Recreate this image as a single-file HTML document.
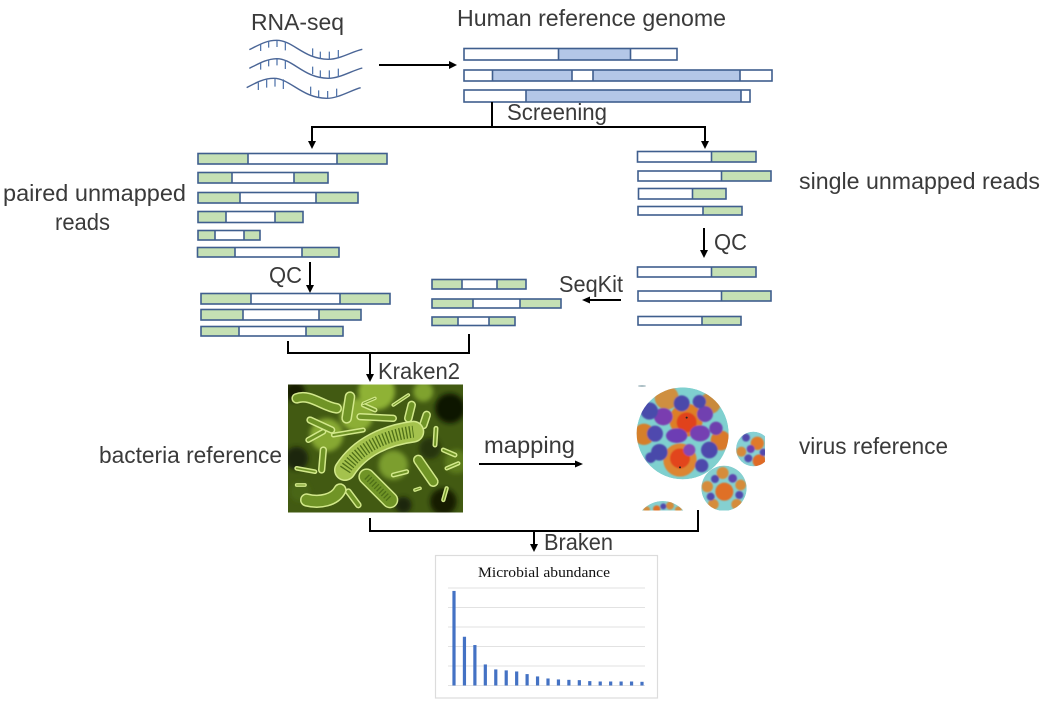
<!DOCTYPE html>
<html lang="en">
<head>
<meta charset="utf-8">
<title>Microbial abundance pipeline</title>
<style>
html,body{margin:0;padding:0;background:#fff;width:1056px;height:720px;overflow:hidden}
svg{display:block}
text{font-family:"Liberation Sans","Noto Sans CJK SC",sans-serif;fill:#3a3a3a;font-size:23.5px}
.read rect{stroke:none}
.read .o{fill:none;stroke:#3f5e8e;stroke-width:1.6}
.read .d{fill:none;stroke:#3f5e8e;stroke-width:1.6}
.g{fill:#c5e0b4}
.b{fill:#b4c7e7}
.w{fill:none;stroke:#4a6596;stroke-width:1.4}
.t{stroke:#4a6fa8;stroke-width:1.2}
.c{stroke:#000;stroke-width:2;fill:none}
</style>
</head>
<body>
<svg id="root" xmlns="http://www.w3.org/2000/svg" width="1056" height="720" viewBox="0 0 1056 720">
<defs>
<clipPath id="bc"><rect x="288" y="384.500" width="175" height="128"/></clipPath>
<clipPath id="vc"><rect x="620" y="375" width="145" height="135.500"/></clipPath>
<clipPath id="v1"><circle cx="188" cy="175" r="138"/></clipPath>
<clipPath id="v2"><circle cx="400" cy="222" r="52"/></clipPath>
<clipPath id="v3"><circle cx="312" cy="340" r="68"/></clipPath>
<clipPath id="v4"><circle cx="128" cy="460" r="82"/></clipPath>
<filter id="bl8"><feGaussianBlur stdDeviation="7"/></filter>
<filter id="bl2"><feGaussianBlur stdDeviation="2.4"/></filter>
<filter id="bl1"><feGaussianBlur stdDeviation="0.7"/></filter>
</defs>

<!-- labels -->
<text x="251" y="30" textLength="93" lengthAdjust="spacingAndGlyphs">RNA-seq</text>
<text x="457" y="26" textLength="269" lengthAdjust="spacingAndGlyphs">Human reference genome</text>
<text x="507" y="120" textLength="100" lengthAdjust="spacingAndGlyphs">Screening</text>
<text x="3" y="201" textLength="183" lengthAdjust="spacingAndGlyphs">paired unmapped</text>
<text x="55" y="230" textLength="55" lengthAdjust="spacingAndGlyphs">reads</text>
<text x="799" y="189" textLength="241" lengthAdjust="spacingAndGlyphs">single unmapped reads</text>
<text x="269" y="283" textLength="33" lengthAdjust="spacingAndGlyphs">QC</text>
<text x="714" y="250" textLength="33" lengthAdjust="spacingAndGlyphs">QC</text>
<text x="559" y="292" textLength="64" lengthAdjust="spacingAndGlyphs">SeqKit</text>
<text x="378" y="379" textLength="82" lengthAdjust="spacingAndGlyphs">Kraken2</text>
<text x="99" y="463" textLength="183" lengthAdjust="spacingAndGlyphs">bacteria reference</text>
<text x="799" y="454" textLength="149" lengthAdjust="spacingAndGlyphs">virus reference</text>
<text x="484" y="453" textLength="91" lengthAdjust="spacingAndGlyphs">mapping</text>
<text x="544" y="550" textLength="69" lengthAdjust="spacingAndGlyphs">Braken</text>

<!-- RNA strands -->
<g transform="translate(240 35) scale(.3333)">
<g>
<path class="w" style="stroke-width:4.200" d="M28 44C60 28 80 16 110 16C160 16 190 72 265 73C300 73 335 50 367 43"/>
<path class="t" style="stroke-width:3.600" d="M62 28V48M86 18V38M111 16V36M136 20V46M218 40V62M241 50V72M268 50V73M295 45V70"/>
</g>
<g>
<path class="w" style="stroke-width:4.200" d="M28 100C60 84 80 72 110 71C160 71 190 129 265 130C300 130 335 107 367 99"/>
<path class="t" style="stroke-width:3.600" d="M62 84V104M86 74V94M111 71V91M136 76V102M218 95V117M241 106V128M268 106V130M295 101V126"/>
</g>
<g>
<path class="w" style="stroke-width:4.200" d="M20 158C50 142 72 130 102 130C150 130 185 189 260 190C295 190 330 167 362 158"/>
<path class="t" style="stroke-width:3.600" d="M55 143V165M80 134V158M105 130V155M130 133V162M212 155V178M236 166V188M263 168V190M290 161V186"/>
</g>
</g>

<!-- genome reads -->
<g class="read">
<g><rect class="b" x="558.500" y="48.500" width="72" height="11.500"/><rect class="o" x="464" y="48.500" width="213" height="11.500"/><path class="d" d="M558.500 48.500V60M630.500 48.500V60"/></g>
<g><rect class="b" x="492.500" y="70" width="79.500" height="11"/><rect class="b" x="593" y="70" width="147" height="11"/><rect class="o" x="464" y="70" width="308" height="11"/><path class="d" d="M492.500 70V81M572 70V81M593 70V81M740 70V81"/></g>
<g><rect class="b" x="526" y="90" width="215" height="12"/><rect class="o" x="464" y="90" width="286" height="12"/><path class="d" d="M526 90V102M741 90V102"/></g>
</g>

<!-- paired reads -->
<g class="read">
<g><rect class="g" x="198" y="153.500" width="50" height="10.500"/><rect class="g" x="337" y="153.500" width="50" height="10.500"/><rect class="o" x="198" y="153.500" width="189" height="10.500"/><path class="d" d="M248 153.500V164M337 153.500V164"/></g>
<g><rect class="g" x="198" y="172.500" width="34" height="10.500"/><rect class="g" x="294" y="172.500" width="34" height="10.500"/><rect class="o" x="198" y="172.500" width="130" height="10.500"/><path class="d" d="M232 172.500V183M294 172.500V183"/></g>
<g><rect class="g" x="198" y="192.500" width="42" height="10.500"/><rect class="g" x="316" y="192.500" width="42" height="10.500"/><rect class="o" x="198" y="192.500" width="160" height="10.500"/><path class="d" d="M240 192.500V203M316 192.500V203"/></g>
<g><rect class="g" x="198" y="211.500" width="28" height="11"/><rect class="g" x="275" y="211.500" width="28" height="11"/><rect class="o" x="198" y="211.500" width="105" height="11"/><path class="d" d="M226 211.500V222.500M275 211.500V222.500"/></g>
<g><rect class="g" x="198" y="230.500" width="17" height="9.500"/><rect class="g" x="244" y="230.500" width="16" height="9.500"/><rect class="o" x="198" y="230.500" width="62" height="9.500"/><path class="d" d="M215 230.500V240M244 230.500V240"/></g>
<g><rect class="g" x="197.500" y="247.500" width="37.500" height="9.500"/><rect class="g" x="302" y="247.500" width="37" height="9.500"/><rect class="o" x="197.500" y="247.500" width="141.500" height="9.500"/><path class="d" d="M235 247.500V257M302 247.500V257"/></g>
</g>

<g class="read">
<g><rect class="g" x="201" y="293.500" width="50" height="10.500"/><rect class="g" x="340" y="293.500" width="50" height="10.500"/><rect class="o" x="201" y="293.500" width="189" height="10.500"/><path class="d" d="M251 293.500V304M340 293.500V304"/></g>
<g><rect class="g" x="201" y="309.500" width="42" height="10.500"/><rect class="g" x="319" y="309.500" width="42" height="10.500"/><rect class="o" x="201" y="309.500" width="160" height="10.500"/><path class="d" d="M243 309.500V320M319 309.500V320"/></g>
<g><rect class="g" x="201" y="326.500" width="38" height="9.500"/><rect class="g" x="306" y="326.500" width="37" height="9.500"/><rect class="o" x="201" y="326.500" width="142" height="9.500"/><path class="d" d="M239 326.500V336M306 326.500V336"/></g>
</g>

<g class="read">
<g><rect class="g" x="432" y="279.500" width="30" height="9.500"/><rect class="g" x="497" y="279.500" width="29" height="9.500"/><rect class="o" x="432" y="279.500" width="94" height="9.500"/><path class="d" d="M462 279.500V289M497 279.500V289"/></g>
<g><rect class="g" x="432" y="299" width="41" height="9"/><rect class="g" x="520" y="299" width="41" height="9"/><rect class="o" x="432" y="299" width="129" height="9"/><path class="d" d="M473 299V308M520 299V308"/></g>
<g><rect class="g" x="432" y="317" width="26" height="8.500"/><rect class="g" x="489" y="317" width="26" height="8.500"/><rect class="o" x="432" y="317" width="83" height="8.500"/><path class="d" d="M458 317V325.500M489 317V325.500"/></g>
</g>

<g class="read">
<g><rect class="g" x="711.500" y="151.500" width="44.500" height="10.500"/><rect class="o" x="637.500" y="151.500" width="118.500" height="10.500"/><path class="d" d="M711.500 151.500V162"/></g>
<g><rect class="g" x="721.500" y="171" width="49.500" height="10"/><rect class="o" x="638" y="171" width="133" height="10"/><path class="d" d="M721.500 171V181"/></g>
<g><rect class="g" x="692.500" y="188.500" width="33.500" height="10.500"/><rect class="o" x="638.500" y="188.500" width="87.500" height="10.500"/><path class="d" d="M692.500 188.500V199"/></g>
<g><rect class="g" x="703" y="206.500" width="39" height="8.500"/><rect class="o" x="638" y="206.500" width="104" height="8.500"/><path class="d" d="M703 206.500V215"/></g>
</g>

<g class="read">
<g><rect class="g" x="711.500" y="267" width="44.500" height="10"/><rect class="o" x="637.500" y="267" width="118.500" height="10"/><path class="d" d="M711.500 267V277"/></g>
<g><rect class="g" x="721.500" y="291" width="49.500" height="10"/><rect class="o" x="638" y="291" width="133" height="10"/><path class="d" d="M721.500 291V301"/></g>
<g><rect class="g" x="702" y="316.500" width="39" height="8.500"/><rect class="o" x="638" y="316.500" width="103" height="8.500"/><path class="d" d="M702 316.500V325"/></g>
</g>

<!-- connectors -->
<g>
<g><path class="c" d="M379 65H451"/><polygon points="457,65 449,61 449,69"/></g>
<path class="c" d="M492 102V127"/>
<g><path class="c" d="M312 143V127H705V143"/><polygon points="312,149 308,141 316,141"/><polygon points="705,149 701,141 709,141"/></g>
<g><path class="c" d="M310 262V287"/><polygon points="310,293 306,285 314,285"/></g>
<g><path class="c" d="M704 228V252"/><polygon points="704,258 700,250 708,250"/></g>
<g><path class="c" d="M621 300H588"/><polygon points="582,300 590,296.500 590,303.500"/></g>
<path class="c" d="M288 341V353H469V334"/>
<g><path class="c" d="M370 353V376"/><polygon points="370,382 366,374 374,374"/></g>
<g><path class="c" d="M479 464H577"/><polygon points="583,464 575,460.500 575,467.500"/></g>
<path class="c" d="M370 518V531H698V510"/>
<g><path class="c" d="M534 531V546"/><polygon points="534,552 530,544 538,544"/></g>
</g>

<!-- bacteria picture -->
<g id="bacteria" clip-path="url(#bc)">
<rect x="288" y="384" width="175" height="129" fill="#425a12"/>
<g filter="url(#bl8)" transform="translate(280 375) scale(.3333)">
<circle cx="45" cy="50" r="30" fill="#141d05"/>
<circle cx="510" cy="100" r="45" fill="#101804"/>
<circle cx="50" cy="250" r="35" fill="#1c2808"/>
<circle cx="490" cy="380" r="40" fill="#141d06"/>
<circle cx="370" cy="390" r="25" fill="#1c2808"/>
<circle cx="450" cy="220" r="32" fill="#26350b"/>
<circle cx="290" cy="50" r="55" fill="#8fb236"/>
<circle cx="140" cy="180" r="50" fill="#87a932"/>
<circle cx="430" cy="50" r="30" fill="#7fa22e"/>
<circle cx="340" cy="270" r="44" fill="#7c9e2d"/>
<circle cx="530" cy="260" r="36" fill="#5d7c1f"/>
<circle cx="60" cy="350" r="30" fill="#4a6618"/>
<circle cx="230" cy="120" r="50" fill="#8cae35"/>
</g>
<g id="bacteria-cells" filter="url(#bl1)" transform="translate(280 375) scale(.3333)"></g>
</g>

<!-- virus picture -->
<g clip-path="url(#vc)">
<g transform="translate(620 375) scale(.3333)">
<g clip-path="url(#v1)">
<circle cx="188" cy="175" r="138" fill="#7fd0cf"/>
<g filter="url(#bl2)">
<circle cx="140" cy="68" r="36" fill="#cf8f3f"/><circle cx="270" cy="85" r="32" fill="#c98a3c"/>
<circle cx="72" cy="178" r="32" fill="#d57f2c"/><circle cx="302" cy="196" r="30" fill="#d9792a"/>
<circle cx="198" cy="135" r="50" fill="#dd7f28"/><circle cx="180" cy="255" r="50" fill="#dd8530"/>
<circle cx="200" cy="142" r="30" fill="#e0431c"/><circle cx="180" cy="250" r="30" fill="#e2451c"/>
<ellipse cx="130" cy="125" rx="28" ry="26" fill="#7a3cb0"/><ellipse cx="170" cy="182" rx="32" ry="22" fill="#6d3cb4"/>
<ellipse cx="240" cy="175" rx="30" ry="24" fill="#7440b2"/><circle cx="255" cy="117" r="24" fill="#7140b0"/>
<circle cx="288" cy="160" r="20" fill="#6e3fae"/><circle cx="208" cy="225" r="18" fill="#8446b4"/>
<circle cx="105" cy="176" r="24" fill="#4f48ae"/><circle cx="88" cy="108" r="26" fill="#4a4cab"/>
<circle cx="185" cy="85" r="24" fill="#4c48aa"/><circle cx="238" cy="80" r="20" fill="#4c48aa"/>
<circle cx="118" cy="232" r="25" fill="#4a48aa"/><circle cx="268" cy="225" r="25" fill="#4d49ac"/>
<circle cx="245" cy="272" r="20" fill="#4d49ac"/><circle cx="92" cy="248" r="16" fill="#4a48aa"/>
</g>
<circle cx="200" cy="128" r="3" fill="#222"/><circle cx="180" cy="277" r="3" fill="#222"/>
</g>
<g clip-path="url(#v2)">
<circle cx="400" cy="222" r="52" fill="#86d0d4"/>
<g filter="url(#bl2)">
<circle cx="412" cy="205" r="20" fill="#df7a2a"/><circle cx="418" cy="258" r="20" fill="#df6b26"/>
<circle cx="364" cy="230" r="15" fill="#d58a3a"/><circle cx="378" cy="188" r="12" fill="#5149ac"/>
<circle cx="385" cy="250" r="12" fill="#5149ac"/><circle cx="392" cy="222" r="12" fill="#6c40b0"/>
<circle cx="430" cy="232" r="11" fill="#5149ac"/>
</g>
</g>
<g clip-path="url(#v3)">
<circle cx="312" cy="340" r="68" fill="#85d0d0"/>
<g filter="url(#bl2)">
<circle cx="313" cy="350" r="27" fill="#df6f28"/><circle cx="308" cy="294" r="18" fill="#d58c3a"/>
<circle cx="262" cy="335" r="17" fill="#d58c3a"/><circle cx="362" cy="330" r="16" fill="#d58c3a"/>
<circle cx="280" cy="388" r="16" fill="#d58c3a"/><circle cx="350" cy="388" r="16" fill="#d58c3a"/>
<circle cx="285" cy="312" r="12" fill="#5149ac"/><circle cx="338" cy="310" r="13" fill="#5b44ae"/>
<circle cx="272" cy="365" r="12" fill="#5149ac"/><circle cx="358" cy="360" r="12" fill="#5149ac"/>
</g>
</g>
<g clip-path="url(#v4)">
<circle cx="128" cy="460" r="82" fill="#85d0d0"/>
<g filter="url(#bl2)">
<circle cx="150" cy="392" r="12" fill="#d58c3a"/><circle cx="110" cy="402" r="11" fill="#df6f28"/>
<circle cx="80" cy="404" r="10" fill="#d58c3a"/><circle cx="130" cy="394" r="9" fill="#5149ac"/>
<circle cx="175" cy="404" r="10" fill="#d58c3a"/>
</g>
</g>
<ellipse cx="66" cy="33" rx="12" ry="2.500" fill="#9db4bb"/>
</g>
</g>

<!-- abundance chart -->
<g id="chart">
<rect x="435.500" y="555.500" width="222" height="142.500" fill="#fff" stroke="#dcdcdc" stroke-width="1.200"/>
<text x="478" y="577" textLength="132" lengthAdjust="spacingAndGlyphs" style='font-family:"Liberation Serif",serif;font-size:14.500px;fill:#111'>Microbial abundance</text>
<g id="grid"></g>
<g id="bars"></g>
</g>
</svg>

<script>
// Chart data (percent of axis maximum)
const categories = ["1","2","3","4","5","6","7","8","9","10","11","12","13","14","15","16","17","18","19"];
const abundance = [97,50,41.5,21.6,16.5,15.5,14.4,11.7,9.3,7.2,6.2,5.8,5.5,4.5,4.1,4.1,4.1,4.1,3.8];
const gridTicks = [0,20,40,60,80,100];

const NS = 'http://www.w3.org/2000/svg';
function xScale(i){ return 454 + i * (642.000 - 454) / (categories.length - 1); }
function yScale(v){ return 685.500 - v * (685.500 - 588) / 100; }

const gridGroup = document.getElementById('grid');
gridTicks.forEach(function(t){
  const line = document.createElementNS(NS, 'line');
  
  
  line.setAttribute('x1', 448);
  line.setAttribute('x2', 645);
  line.setAttribute('y1', yScale(t));
  line.setAttribute('y2', yScale(t));
  line.setAttribute('stroke', '#e2e2e2');
  line.setAttribute('stroke-width', 1);
  gridGroup.appendChild(line);
});

const barGroup = document.getElementById('bars');
abundance.forEach(function(v, i){
  const bar = document.createElementNS(NS, 'rect');
  
  
  bar.setAttribute('x', xScale(i) - 1.6);
  bar.setAttribute('width', 3.2);
  bar.setAttribute('y', yScale(v));
  bar.setAttribute('height', yScale(0) - yScale(v));
  bar.setAttribute('fill', '#4472c4');
  barGroup.appendChild(bar);
});

// Illustration: bacteria cells, drawn back to front
const cellShapes = [
  ["M50 330L75 330",11],["M405 345L420 340",11],["M490 375L500 340",13],["M500 280L535 265",13],
  ["M490 225L525 240",15],["M468 160L465 210",15],["M50 280L105 290",14],
  ["M340 90L385 60",11],["M440 120L430 150",26],["M395 90L385 130",26],
  ["M250 90L285 105",15],["M285 70L250 85",10],["M85 195L130 170",18],
  ["M130 225L125 285",22],["M205 350L235 390",20],
  ["M50 70C90 55 130 95 170 100",32],["M90 135L155 165",22],["M210 65L200 130",32],
  ["M240 125L340 130",22],["M160 180L250 165",15],["M415 255L460 320",32],["M340 300L380 290",15],
  ["M80 375C120 385 165 375 180 345",40],["M260 305L330 375",50],
  ["M195 285C240 215 320 180 400 170",66]
];
const cellGroup = document.getElementById('bacteria-cells');
cellShapes.forEach(function(s){
  const rim = document.createElementNS(NS, 'path');
  
  
  rim.setAttribute('d', s[0]);
  rim.setAttribute('fill', 'none');
  rim.setAttribute('stroke', '#d2e88a');
  rim.setAttribute('stroke-linecap', 'round');
  rim.setAttribute('stroke-width', s[1]);
  cellGroup.appendChild(rim);
  const body = document.createElementNS(NS, 'path');
  
  
  body.setAttribute('d', s[0]);
  body.setAttribute('fill', 'none');
  body.setAttribute('stroke', s[1] > 60 ? '#a4c24e' : '#6f9428');
  body.setAttribute('stroke-linecap', 'round');
  body.setAttribute('stroke-width', Math.max(s[1] - 9, 3));
  cellGroup.appendChild(body);
  if (s[1] > 45) {
    const speck = document.createElementNS(NS, 'path');
    
    
    speck.setAttribute('d', s[0]);
    speck.setAttribute('fill', 'none');
    speck.setAttribute('stroke', '#4f7018');
    speck.setAttribute('stroke-dasharray', '4 6');
    speck.setAttribute('stroke-width', s[1] - 30);
    cellGroup.appendChild(speck);
  }
});
</script>
</body>
</html>
